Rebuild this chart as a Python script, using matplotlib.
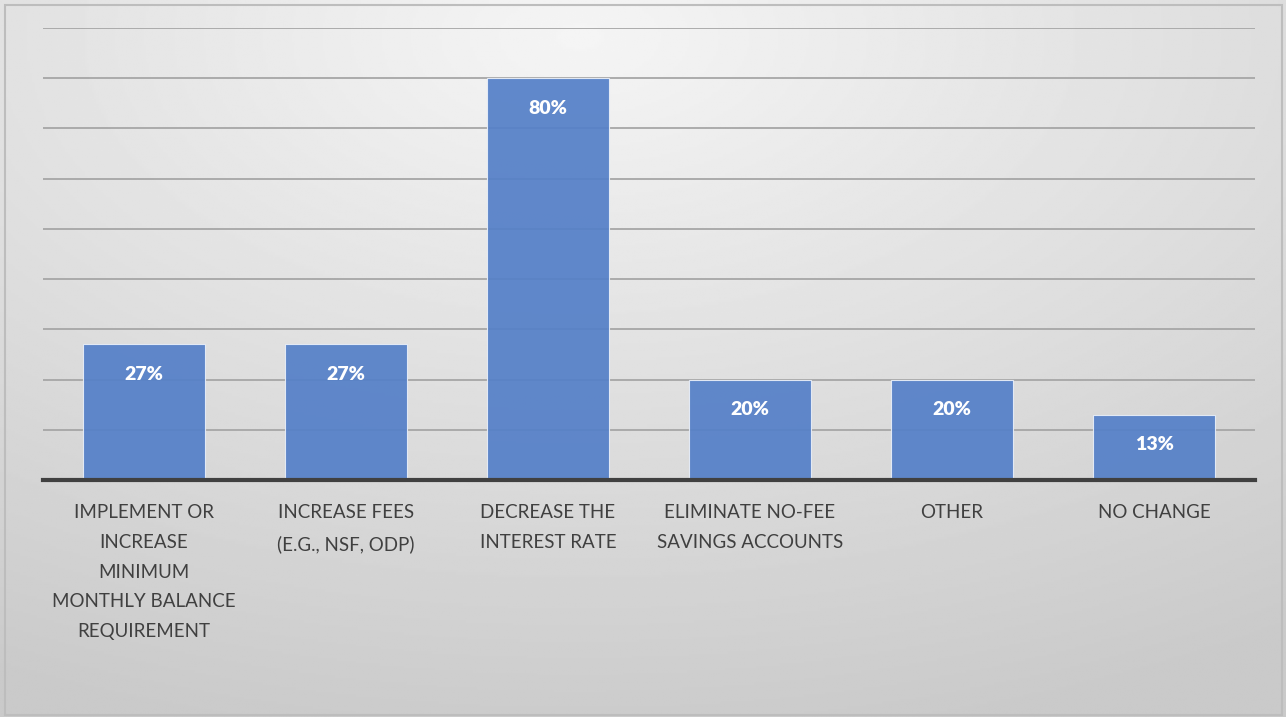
import numpy as np
import matplotlib.pyplot as plt
from matplotlib.patches import Rectangle

categories = [
    "IMPLEMENT OR\nINCREASE\nMINIMUM\nMONTHLY BALANCE\nREQUIREMENT",
    "INCREASE FEES\n(E.G., NSF, ODP)",
    "DECREASE THE\nINTEREST RATE",
    "ELIMINATE NO-FEE\nSAVINGS ACCOUNTS",
    "OTHER",
    "NO CHANGE",
]
values = [27, 27, 80, 20, 20, 13]
value_labels = ["27%", "27%", "80%", "20%", "20%", "13%"]

plt.rcParams['font.family'] = ['Lato', 'DejaVu Sans']

fig = plt.figure(figsize=(12.86, 7.17), dpi=100)

# gradient background
bg = fig.add_axes([0, 0, 1, 1], zorder=-10)
h, w = 300, 540
yy, xx = np.mgrid[0:h, 0:w]
cx, cy = w * 0.45, h * 0.05
r = np.sqrt(((xx - cx) / w) ** 2 + ((yy - cy) / h) ** 2)
shade = 0.96 - 0.17 * np.clip(r / 1.0, 0, 1)
bg.imshow(shade, cmap='gray', vmin=0, vmax=1, aspect='auto',
          extent=[0, 1, 0, 1], origin='upper')
bg.add_patch(Rectangle((0.004, 0.003), 0.993, 0.99, fill=False,
                       edgecolor='#bdbdbd', linewidth=1.5))
bg.set_xlim(0, 1)
bg.set_ylim(0, 1)
bg.axis('off')

ax = fig.add_axes([0.0334, 0.3305, 0.9425, 0.6305])
ax.patch.set_alpha(0)
x = np.arange(len(categories))
bars = ax.bar(x, values, width=0.6, color='#5580c8', alpha=0.93,
              edgecolor='#e8eef8', linewidth=0.8, zorder=3)

ax.set_xlim(-0.5, len(categories) - 0.5)
ax.set_ylim(0, 90)
ax.set_yticks(np.arange(0, 91, 10))
ax.yaxis.grid(True, color='#a6a6a6', linewidth=1.3, zorder=1)
ax.set_axisbelow(True)
ax.tick_params(axis='y', length=0, labelleft=False)
ax.tick_params(axis='x', length=0, pad=17.5)
ax.set_xticks(x)
ax.set_xticklabels(categories, fontsize=13.5, color='#404040',
                   linespacing=1.9, va='top')
for s in ['top', 'left', 'right']:
    ax.spines[s].set_visible(False)
ax.spines['bottom'].set_color('#404040')
ax.spines['bottom'].set_linewidth(3)
ax.spines['bottom'].set_zorder(4)

for b, lab in zip(bars, value_labels):
    ax.annotate(lab, (b.get_x() + b.get_width() / 2, b.get_height()),
                xytext=(0, -30), textcoords='offset pixels',
                ha='center', va='center', color='white',
                fontsize=14, fontweight='heavy', zorder=5)

fig.savefig('out.png', dpi=100)
